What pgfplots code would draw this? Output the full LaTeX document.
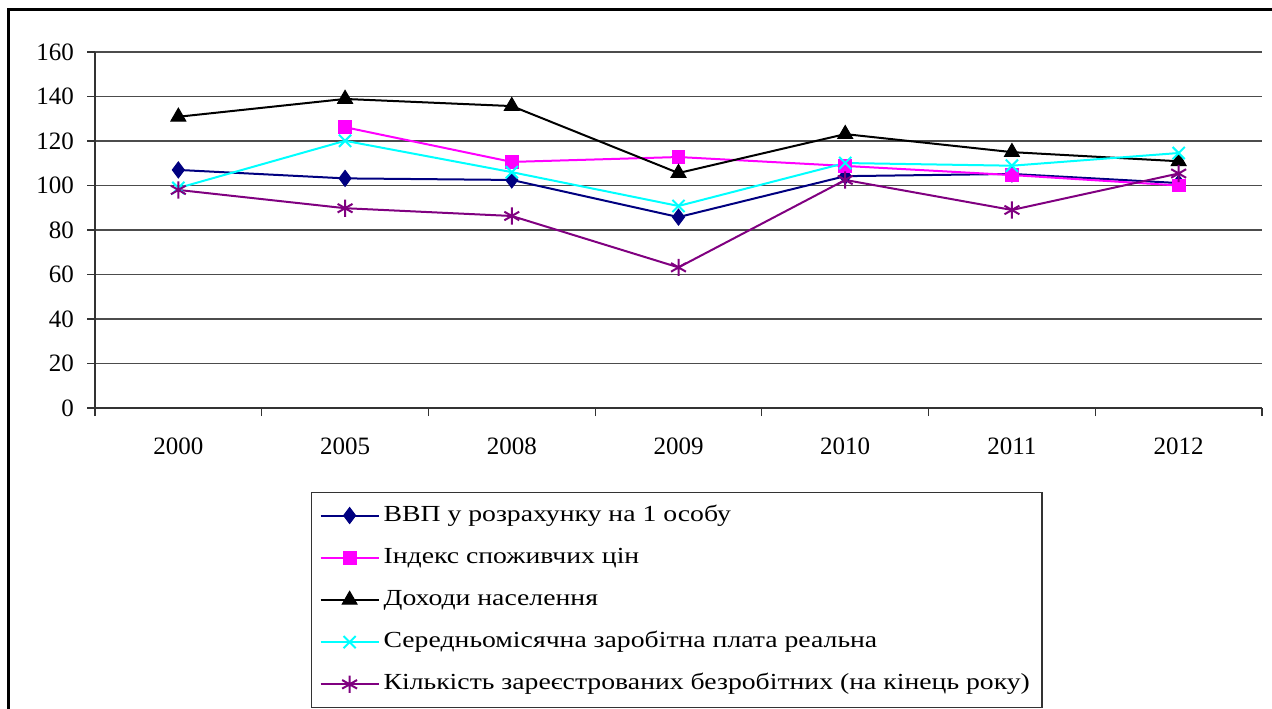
\documentclass[border=0pt]{standalone}
\usepackage{pgfplots}
\pgfplotsset{compat=1.18}
\usepackage{fontspec}
\setmainfont{Liberation Serif}
\newfontfamily\legfont[FakeStretch=1.205]{Liberation Serif}
\usetikzlibrary{plotmarks}
\definecolor{cnavy}{RGB}{0,0,128}
\definecolor{cmag}{RGB}{255,0,255}
\definecolor{ccyan}{RGB}{0,255,255}
\definecolor{cpurp}{RGB}{128,0,128}
\begin{document}
\begin{tikzpicture}[x=1pt,y=1pt]
\path[use as bounding box] (0,0) rectangle (636,354);
\draw[line width=1.5pt] (4,-5) -- (4,349) -- (645,349);
\begin{axis}[
  at={(47.5pt,150pt)}, anchor=south west,
  scale only axis, width=583.5pt, height=178pt,
  xmin=-0.5, xmax=6.5, ymin=0, ymax=160,
  axis x line*=bottom, axis y line*=left,
  axis line style={black!80, line width=0.6pt},
  xtick={0,...,6},
  xticklabels={2000,2005,2008,2009,2010,2011,2012},
  minor xtick={-0.5,0.5,...,6.5},
  major x tick style={draw=none},
  minor x tick style={black!80, line width=0.6pt},
  ytick={0,20,...,160},
  y tick style={black!80, line width=0.6pt},
  tick align=outside,
  major tick length=4pt, minor tick length=4pt,
  ymajorgrids, grid style={black!70, line width=0.6pt},
  tick label style={font=\fontsize{12.5}{14}\selectfont},
  /pgf/number format/assume math mode=true,
  xticklabel style={yshift=-7.5pt},
  yticklabel style={xshift=-3pt},
  legend style={at={(0.1851,-0.236)}, anchor=north west,
    draw=black!80, line width=0.6pt,
    font=\legfont\fontsize{11.5}{13}\selectfont,
    row sep=6.6pt, inner xsep=4pt, inner ysep=4.2pt,
    nodes={inner sep=2pt, text height=8pt, text depth=2.5pt}},
  legend cell align=left,
  legend image code/.code={\draw[mark repeat=2,mark phase=2] plot coordinates {(0pt,0pt) (14.5pt,0pt) (29pt,0pt)};},
  every axis plot/.append style={line width=1pt},
]
\addplot[cnavy, mark=diamond*, mark size=4pt, mark options={solid,fill=cnavy,line width=0.5pt}]
  coordinates {(0,107) (1,103.2) (2,102.5) (3,85.8) (4,104.2) (5,105.2) (6,101.1)};
\addlegendentry{ВВП у розрахунку на 1 особу}
\addplot[cmag, mark=square*, mark size=3.2pt, mark options={solid,fill=cmag,line width=0.5pt}]
  coordinates {(1,126.2) (2,110.6) (3,112.8) (4,108.8) (5,104.7) (6,100)};
\addlegendentry{Індекс споживчих цін}
\addplot[black, mark=triangle*, mark size=4.3pt, mark options={solid,fill=black,line width=0.5pt}]
  coordinates {(0,130.9) (1,138.9) (2,135.7) (3,105.6) (4,123.1) (5,115) (6,110.9)};
\addlegendentry{Доходи населення}
\addplot[ccyan, mark=x, mark size=4.3pt, mark options={solid,line width=1pt}]
  coordinates {(0,98.9) (1,120.1) (2,106) (3,90.8) (4,110.1) (5,108.9) (6,114.6)};
\addlegendentry{Середньомісячна заробітна плата реальна}
\addplot[cpurp, mark=asterisk, mark size=4.3pt, mark options={solid,line width=1pt}]
  coordinates {(0,98) (1,89.8) (2,86.3) (3,63.2) (4,102.5) (5,89) (6,105.4)};
\addlegendentry{Кількість зареєстрованих безробітних (на кінець року)}
\end{axis}
\end{tikzpicture}
\end{document}
